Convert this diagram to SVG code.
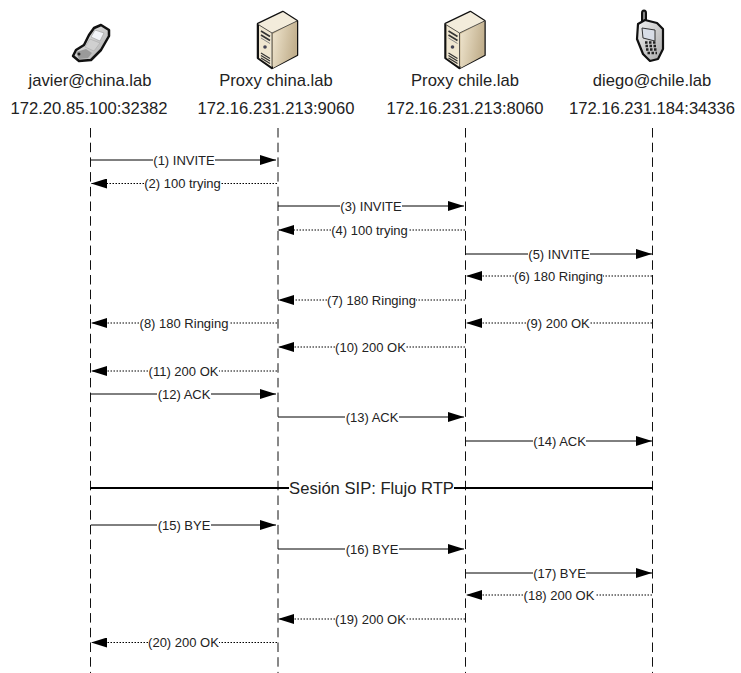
<svg xmlns="http://www.w3.org/2000/svg" width="741" height="673" viewBox="0 0 741 673">
<style>
text{font-family:"Liberation Sans",Arial,sans-serif;fill:#222;text-anchor:middle}
.h{font-size:16.6px}
.m{font-size:13px}
.s{font-size:16.6px}
.ll{stroke:#111;stroke-width:1;stroke-dasharray:9.500 5.200;fill:none}
.sol{stroke:#000;stroke-width:1;fill:none;marker-end:url(#a)}
.dot{stroke:#000;stroke-width:1;stroke-dasharray:1.500 1.500;fill:none;marker-end:url(#a)}
</style>
<defs>
<marker id="a" viewBox="0 0 16 10" refX="16" refY="5" markerWidth="16" markerHeight="10" markerUnits="userSpaceOnUse" orient="auto"><path d="M0 0L16 5L0 10Z" fill="#000" stroke="none"/></marker>
<linearGradient id="srv" x1="0" y1="0" x2="1" y2="0.300"><stop offset="0" stop-color="#f0e6cf"/><stop offset="1" stop-color="#c2b08e"/></linearGradient>
<linearGradient id="ph" x1="0" y1="0" x2="1" y2="1"><stop offset="0" stop-color="#f2f2f2"/><stop offset="1" stop-color="#a8a8a8"/></linearGradient>
<g id="server">
<path d="M258 24L283 12L297 21V55L272 68L258 58Z" fill="#c9b896" stroke="#111" stroke-width="2.500" stroke-linejoin="round"/>
<path d="M258 24L283 12L297 21L272 33Z" fill="#f3ecdb"/>
<path d="M273 34L297 21V55L273 68Z" fill="url(#srv)"/>
<path d="M259 25L272 33V67L259 58Z" fill="#efe6d0"/>
<path d="M259 25L272 33L297 21M272 33V67" fill="none" stroke="#333" stroke-width=".800"/>
<path d="M261 31L270 36.500M261 35L270 40.500" stroke="#333" stroke-width="1.600"/>
<path d="M261 38L270 43.500" stroke="#888" stroke-width="1"/>
<circle cx="265" cy="47" r="1.800" fill="#445"/>
<path d="M261 53L270 58.500M261 55.500L270 61M261 58L270 63.500" stroke="#333" stroke-width="1.200"/>
</g>
</defs>
<g id="connectors">
<path class="ll" d="M90.500 128V673M278 128V673M465.500 128V673M652.500 128V673"/>
<path class="sol" d="M91 160H153M215 160H276"/>
<path class="dot" d="M277 183.500H221M144 183.500H91"/>
<path class="sol" d="M278 206H340M402 206H464"/>
<path class="dot" d="M465 230H408M331 230H278"/>
<path class="sol" d="M466 254H528M590 254H652"/>
<path class="dot" d="M652 276H603M514 276H466"/>
<path class="dot" d="M465 300H416M327 300H278"/>
<path class="dot" d="M277 323H229M139 323H91"/>
<path class="dot" d="M652 323H590M526 323H466"/>
<path class="dot" d="M465 347H406M335 347H278"/>
<path class="dot" d="M277 371H219M148 371H91"/>
<path class="sol" d="M91 394H157M211 394H276"/>
<path class="sol" d="M278 417H345M399 417H464"/>
<path class="sol" d="M466 441H533M586 441H652"/>
<path d="M90 488H289M454 488H653" stroke="#000" stroke-width="2" fill="none"/>
<path class="sol" d="M91 525H157M211 525H276"/>
<path class="sol" d="M278 549H345M399 549H464"/>
<path class="sol" d="M466 573H533M586 573H652"/>
<path class="dot" d="M652 595H595M523 595H466"/>
<path class="dot" d="M465 619H406M335 619H278"/>
<path class="dot" d="M277 642.500H219M148 642.500H91"/>
</g>
<g id="node-javier">
<path d="M94 28L101 25L109 30L109 36L101 50L91 60L79 61L73 56L76 50L84 45L89 35Z" fill="url(#ph)" stroke="#111" stroke-width="2.500" stroke-linejoin="round"/>
<path d="M95 30L104 33L100 41L91 37Z" fill="#f2f4f8" stroke="#999" stroke-width=".600"/>
<path d="M90 39L100 43L94 51L85 47Z" fill="#d0d0d0" stroke="#aaa" stroke-width=".600"/>
<path d="M76 52L86 49L92 53L88 58L79 59Z" fill="#9a9a9a"/>
<circle cx="79" cy="54" r="1.500" fill="#222"/>
<text class="h" x="90" y="85.500">javier@china.lab</text>
<text class="h" x="89" y="113.500">172.20.85.100:32382</text>
</g>
<g id="node-proxy-china">
<use href="#server"/>
<text class="h" x="276" y="85.500">Proxy china.lab</text>
<text class="h" x="276" y="113.500">172.16.231.213:9060</text>
</g>
<g id="node-proxy-chile">
<use href="#server" x="187.500"/>
<text class="h" x="465" y="85.500">Proxy chile.lab</text>
<text class="h" x="465" y="113.500">172.16.231.213:8060</text>
</g>
<g id="node-diego">
<path d="M642 23V13Q642 10.500 644 10.500Q646 10.500 646 13V21" fill="#888" stroke="#111" stroke-width="2"/>
<path d="M638 24L645 20L657 23L663 29V49L658 59L650 61L643 54L637 39Z" fill="url(#ph)" stroke="#111" stroke-width="2.200" stroke-linejoin="round"/>
<path d="M642 28L655 30V41L643 38Z" fill="#d8dde6" stroke="#333"/>
<path d="M645 42.500H657M645.500 46H657.500M646 49.500H658M647.500 53H657" stroke="#222" stroke-width="2.300" stroke-dasharray="2.500 1.500"/>
<text class="h" x="652" y="85.500">diego@chile.lab</text>
<text class="h" x="652" y="113.500">172.16.231.184:34336</text>
</g>
<g id="labels">
<text class="m" x="184" y="164.500">(1) INVITE</text>
<text class="m" x="182.500" y="188">(2) 100 trying</text>
<text class="m" x="371" y="210.500">(3) INVITE</text>
<text class="m" x="369.500" y="234.500">(4) 100 trying</text>
<text class="m" x="559" y="258.500">(5) INVITE</text>
<text class="m" x="558.500" y="280.500">(6) 180 Ringing</text>
<text class="m" x="371.500" y="304.500">(7) 180 Ringing</text>
<text class="m" x="184" y="327.500">(8) 180 Ringing</text>
<text class="m" x="558" y="327.500">(9) 200 OK</text>
<text class="m" x="370.500" y="351.500">(10) 200 OK</text>
<text class="m" x="183.500" y="375.500">(11) 200 OK</text>
<text class="m" x="184" y="398.500">(12) ACK</text>
<text class="m" x="372" y="421.500">(13) ACK</text>
<text class="m" x="559.500" y="445.500">(14) ACK</text>
<text class="s" x="371.500" y="494">Sesión SIP: Flujo RTP</text>
<text class="m" x="184" y="529.500">(15) BYE</text>
<text class="m" x="372" y="553.500">(16) BYE</text>
<text class="m" x="559.500" y="577.500">(17) BYE</text>
<text class="m" x="559" y="599.500">(18) 200 OK</text>
<text class="m" x="370.500" y="623.500">(19) 200 OK</text>
<text class="m" x="183.500" y="647">(20) 200 OK</text>
</g>
</svg>
